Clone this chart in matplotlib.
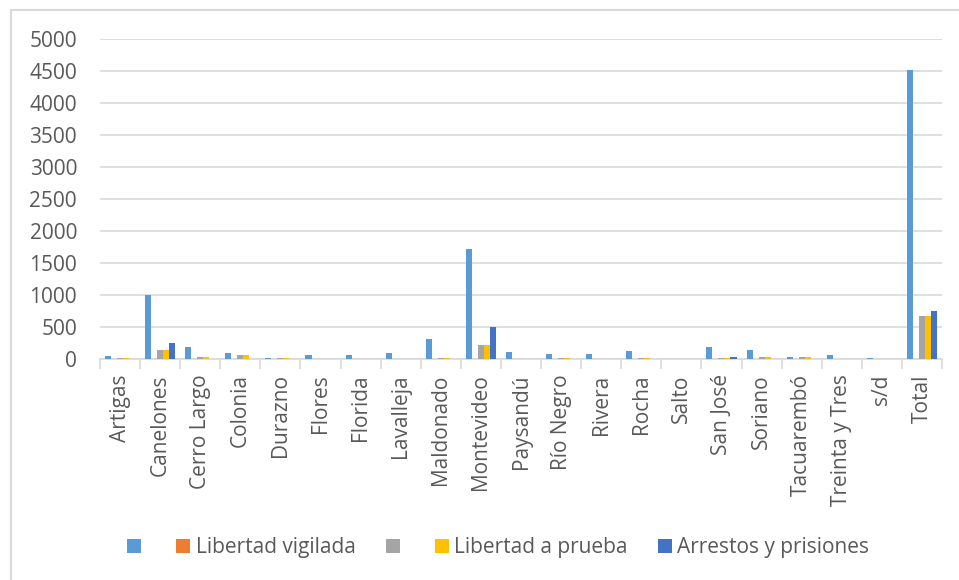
import matplotlib
matplotlib.use('Agg')
import matplotlib.pyplot as plt
import numpy as np
from matplotlib.lines import Line2D
from matplotlib.patches import Patch

plt.rcParams['font.family'] = ['Open Sans', 'DejaVu Sans']

# Datos por departamento
departamentos = ['Artigas', 'Canelones', 'Cerro Largo', 'Colonia', 'Durazno', 'Flores',
                 'Florida', 'Lavalleja', 'Maldonado', 'Montevideo', 'Paysandú', 'Río Negro',
                 'Rivera', 'Rocha', 'Salto', 'San José', 'Soriano', 'Tacuarembó',
                 'Treinta y Tres', 's/d', 'Total']
serie_1 = [42, 1000, 195, 100, 15, 58, 63, 100, 311, 1713, 110, 79, 79, 126, 5, 190, 137, 32, 58, 20, 4510]
libertad_vigilada = [0] * 21
serie_3 = [15, 137, 25, 58, 10, 0, 0, 0, 15, 211, 5, 12, 5, 15, 0, 10, 32, 32, 0, 0, 670]
libertad_prueba = [15, 137, 25, 58, 10, 0, 0, 0, 15, 211, 5, 12, 5, 15, 0, 10, 32, 32, 0, 0, 670]
arrestos = [0, 243, 0, 0, 0, 0, 0, 0, 0, 505, 0, 0, 0, 0, 0, 37, 0, 0, 0, 0, 755]

series = [(serie_1, '', '#5B9BD5'),
          (libertad_vigilada, 'Libertad vigilada', '#ED7D31'),
          (serie_3, '', '#A5A5A5'),
          (libertad_prueba, 'Libertad a prueba', '#FFC000'),
          (arrestos, 'Arrestos y prisiones', '#4472C4')]

text_color = '#595959'
grid_color = '#D9D9D9'

fig = plt.figure(figsize=(9.59, 5.80), dpi=100)
ax = fig.add_axes([100 / 959, 1 - 359 / 580, 842 / 959, 320 / 580])

x = np.arange(len(departamentos))
width = 0.15
for i, (vals, label, color) in enumerate(series):
    ax.bar(x + (i - 2) * width, vals, width=width, color=color, zorder=3)

ax.set_xlim(-0.5, len(departamentos) - 0.5)
ax.set_ylim(0, 5000)
ax.set_yticks(np.arange(0, 5001, 500))
ax.yaxis.grid(True, color=grid_color, linewidth=1.2, zorder=0)
ax.tick_params(axis='y', length=0, labelsize=15, labelcolor=text_color, pad=16.5)

ax.set_xticks(x)
ax.set_xticklabels(departamentos, rotation=90, fontsize=15, color=text_color)
ax.set_xticks(np.arange(-0.5, len(departamentos)), minor=True)
ax.tick_params(axis='x', which='major', length=0, pad=11)
ax.tick_params(axis='x', which='minor', length=7, color=grid_color, width=1.2)

for s in ['top', 'right', 'left']:
    ax.spines[s].set_visible(False)
ax.spines['bottom'].set_color(grid_color)
ax.spines['bottom'].set_linewidth(1.2)

handles = [Patch(facecolor=c, edgecolor='none') for _, _, c in series]
labels = [l for _, l, _ in series]
fig.legend(handles, labels, loc='center', bbox_to_anchor=(498 / 959, 1 - 548 / 580),
           ncol=5, frameon=False, fontsize=15, labelcolor=text_color,
           handlelength=0.67, handleheight=0.67, handletextpad=0.25, columnspacing=1.45)

# marco del gráfico
fig.add_artist(Line2D([11 / 959, 1], [1 - 10 / 580, 1 - 10 / 580], color=grid_color, linewidth=1.5))
fig.add_artist(Line2D([11 / 959, 11 / 959], [0, 1 - 10 / 580], color=grid_color, linewidth=1.5))

fig.savefig('out.png', dpi=100)
